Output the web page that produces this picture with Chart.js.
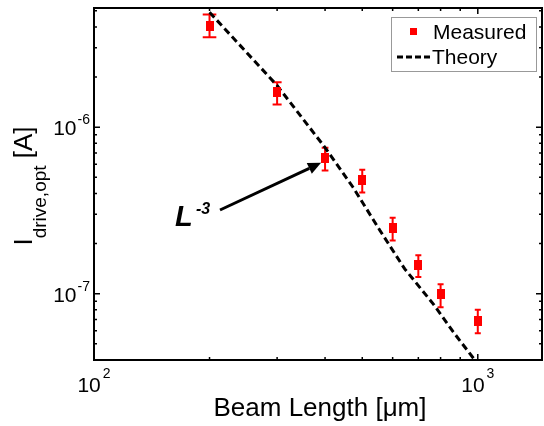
<!DOCTYPE html>
<html><head><meta charset="utf-8">
<script src="https://cdn.jsdelivr.net/npm/chart.js@4/dist/chart.umd.min.js"></script>
<style>html,body{margin:0;padding:0;background:#fff;}#wrap{width:544px;height:426px;position:relative;}</style>
</head><body><div id="wrap"><canvas id="c" width="544" height="426"></canvas></div>
<script>
// ---- data ----
const beamLength = [200, 300, 400, 500, 600, 700, 800, 1000];
const measuredI  = [4.07e-6, 1.62e-6, 6.55e-7, 4.83e-7, 2.48e-7, 1.48e-7, 9.9e-8, 6.86e-8];
const errLow     = [3.47e-6, 1.37e-6, 5.5e-7, 4.06e-7, 2.09e-7, 1.26e-7, 8.3e-8, 5.8e-8];
const errHigh    = [4.75e-6, 1.86e-6, 7.52e-7, 5.55e-7, 2.86e-7, 1.70e-7, 1.14e-7, 8.0e-8];
const theoryL    = [200, 300, 400, 473, 556, 645, 765, 863, 982];
const theoryI    = [4.9e-6, 1.78e-6, 7.55e-7, 4.36e-7, 2.4e-7, 1.41e-7, 8.7e-8, 5.9e-8, 4.0e-8];
const xTickValues = [100, 1000];
const xTickExps   = ['2', '3'];
const yTickValues = [1e-7, 1e-6];
const yTickExps   = ['-7', '-6'];
const xMinorTicks = [200, 300, 400, 500, 600, 700, 800, 900];
const yMinorTicks = [5e-8, 6e-8, 7e-8, 8e-8, 9e-8, 2e-7, 3e-7, 4e-7, 5e-7, 6e-7, 7e-7, 8e-7, 9e-7, 2e-6, 3e-6, 4e-6, 5e-6];
const legendLabels = ['Measured', 'Theory'];
const xTitle = 'Beam Length [\u03bcm]';
const yTitleMain = 'I', yTitleSub = 'drive,opt', yTitleTail = ' [A]';
const annotMain = 'L', annotExp = '-3';

const FONT = '"Liberation Sans", Arial, sans-serif';
const RED = '#ff0000';

const measuredPts = beamLength.map((x, i) => ({x, y: measuredI[i]}));
const theoryPts = theoryL.map((x, i) => ({x, y: theoryI[i]}));

// marker glyph: filled red rectangle (slightly taller than wide, as in the reference)
const markerCanvas = document.createElement('canvas');
markerCanvas.width = 8; markerCanvas.height = 10;
(function () { const m = markerCanvas.getContext('2d'); m.fillStyle = RED; m.fillRect(0, 0, 8, 10); })();

const customDraw = {
  id: 'customDraw',
  beforeDatasetsDraw(chart) {
    const ctx = chart.ctx, xs = chart.scales.x, ys = chart.scales.y;
    ctx.save();
    ctx.strokeStyle = RED; ctx.lineWidth = 2;
    beamLength.forEach((L, i) => {
      const px = xs.getPixelForValue(L);
      const yl = ys.getPixelForValue(errLow[i]), yh = ys.getPixelForValue(errHigh[i]);
      let hw = px - xs.getPixelForValue(L - 8);
      hw = Math.max(hw, 3);
      ctx.beginPath();
      ctx.moveTo(px, yl); ctx.lineTo(px, yh);
      ctx.moveTo(px - hw, yl); ctx.lineTo(px + hw, yl);
      ctx.moveTo(px - hw, yh); ctx.lineTo(px + hw, yh);
      ctx.stroke();
    });
    ctx.restore();
  },
  afterDraw(chart) {
    const ctx = chart.ctx, xs = chart.scales.x, ys = chart.scales.y, a = chart.chartArea;
    ctx.save();
    // frame
    ctx.strokeStyle = '#000'; ctx.lineWidth = 2;
    ctx.strokeRect(a.left, a.top, a.right - a.left, a.bottom - a.top);
    // ticks (inward, mirrored)
    ctx.lineWidth = 1.5;
    const tickX = (v, len) => {
      const p = xs.getPixelForValue(v);
      ctx.beginPath();
      ctx.moveTo(p, a.bottom); ctx.lineTo(p, a.bottom - len);
      ctx.moveTo(p, a.top); ctx.lineTo(p, a.top + len);
      ctx.stroke();
    };
    const tickY = (v, len) => {
      const p = ys.getPixelForValue(v);
      ctx.beginPath();
      ctx.moveTo(a.left, p); ctx.lineTo(a.left + len, p);
      ctx.moveTo(a.right, p); ctx.lineTo(a.right - len, p);
      ctx.stroke();
    };
    xMinorTicks.forEach(v => tickX(v, 3));
    yMinorTicks.forEach(v => tickY(v, 3));
    xTickValues.forEach(v => tickX(v, 6));
    yTickValues.forEach(v => tickY(v, 6));
    // tick labels
    ctx.fillStyle = '#000';
    ctx.textBaseline = 'alphabetic';
    xTickValues.forEach((v, i) => {
      const p = xs.getPixelForValue(v);
      ctx.font = '21px ' + FONT;
      const w1 = ctx.measureText('10').width;
      ctx.font = '14px ' + FONT;
      const w2 = ctx.measureText(xTickExps[i]).width;
      const x0 = p - (w1 + w2 + 2) / 2;
      ctx.font = '21px ' + FONT; ctx.textAlign = 'left';
      ctx.fillText('10', x0, 392);
      ctx.font = '14px ' + FONT;
      ctx.fillText(xTickExps[i], x0 + w1 + 2, 378);
    });
    yTickValues.forEach((v, i) => {
      const p = ys.getPixelForValue(v);
      ctx.font = '14px ' + FONT; ctx.textAlign = 'right';
      const w2 = ctx.measureText(yTickExps[i]).width;
      ctx.fillText(yTickExps[i], 90, p - 3);
      ctx.font = '21px ' + FONT;
      ctx.fillText('10', 90 - w2 - 1, p + 8);
    });
    // x title
    ctx.font = '26px ' + FONT; ctx.textAlign = 'center';
    ctx.fillText(xTitle, 320, 416);
    // y title (rotated)
    ctx.save();
    ctx.translate(32, 186);
    ctx.rotate(-Math.PI / 2);
    ctx.textAlign = 'left';
    ctx.font = '26px ' + FONT; const wm = ctx.measureText(yTitleMain).width;
    ctx.font = '19px ' + FONT; const ws = ctx.measureText(yTitleSub).width;
    ctx.font = '26px ' + FONT; const wt = ctx.measureText(yTitleTail).width;
    let tx = -(wm + ws + wt) / 2;
    ctx.font = '26px ' + FONT; ctx.fillText(yTitleMain, tx, 0); tx += wm;
    ctx.font = '19px ' + FONT; ctx.fillText(yTitleSub, tx, 14); tx += ws;
    ctx.font = '26px ' + FONT; ctx.fillText(yTitleTail, tx, 0);
    ctx.restore();
    // legend
    ctx.fillStyle = '#fff'; ctx.strokeStyle = '#999'; ctx.lineWidth = 1;
    ctx.fillRect(391, 17, 146, 55); ctx.strokeRect(391.5, 17.5, 145, 54);
    ctx.fillStyle = RED; ctx.fillRect(410, 28, 7, 7);
    ctx.fillStyle = '#000'; ctx.font = '21px ' + FONT; ctx.textAlign = 'left'; ctx.textBaseline = 'middle';
    ctx.fillText(legendLabels[0], 433, 33);
    ctx.fillText(legendLabels[1], 432, 58);
    ctx.strokeStyle = '#000'; ctx.lineWidth = 3; ctx.setLineDash([6, 3]);
    ctx.beginPath(); ctx.moveTo(397, 57); ctx.lineTo(431, 57); ctx.stroke();
    ctx.setLineDash([]);
    // annotation L^-3 with arrow
    ctx.textBaseline = 'alphabetic';
    ctx.font = 'italic bold 29px ' + FONT;
    ctx.fillText(annotMain, 175, 226);
    ctx.font = 'italic bold 16px ' + FONT;
    ctx.fillText(annotExp, 196, 214);
    const tipX = xs.getPixelForValue(beamLength[2]) - 4;
    const tipY = ys.getPixelForValue(measuredI[2]) + 5;
    const sx = 220, sy = 210;
    const ang = Math.atan2(tipY - sy, tipX - sx);
    const hl = 13, hwid = 6;
    const bx = tipX - hl * Math.cos(ang), by = tipY - hl * Math.sin(ang);
    ctx.strokeStyle = '#000'; ctx.lineWidth = 3;
    ctx.beginPath(); ctx.moveTo(sx, sy); ctx.lineTo(bx, by); ctx.stroke();
    ctx.fillStyle = '#000';
    ctx.beginPath();
    ctx.moveTo(tipX, tipY);
    ctx.lineTo(bx + hwid * Math.sin(ang), by - hwid * Math.cos(ang));
    ctx.lineTo(bx - hwid * Math.sin(ang), by + hwid * Math.cos(ang));
    ctx.closePath(); ctx.fill();
    ctx.restore();
  }
};

new Chart(document.getElementById('c'), {
  type: 'scatter',
  data: {
    datasets: [
      { label: legendLabels[1], data: theoryPts, showLine: true, borderColor: '#000', borderWidth: 3,
        borderDash: [7, 4], pointRadius: 0, fill: false, order: 2 },
      { label: legendLabels[0], data: measuredPts, pointStyle: markerCanvas, pointRadius: 5,
        backgroundColor: RED, borderColor: RED, showLine: false, order: 1 }
    ]
  },
  options: {
    responsive: false, animation: false, devicePixelRatio: 1,
    layout: { autoPadding: false, padding: { left: 94, top: 8, right: 2, bottom: 66 } },
    scales: {
      x: { type: 'logarithmic', min: 100, max: 1470, display: false },
      y: { type: 'logarithmic', min: 4e-8, max: 5.2e-6, display: false }
    },
    plugins: { legend: { display: false }, tooltip: { enabled: false } }
  },
  plugins: [customDraw]
});
</script>
</body></html>
